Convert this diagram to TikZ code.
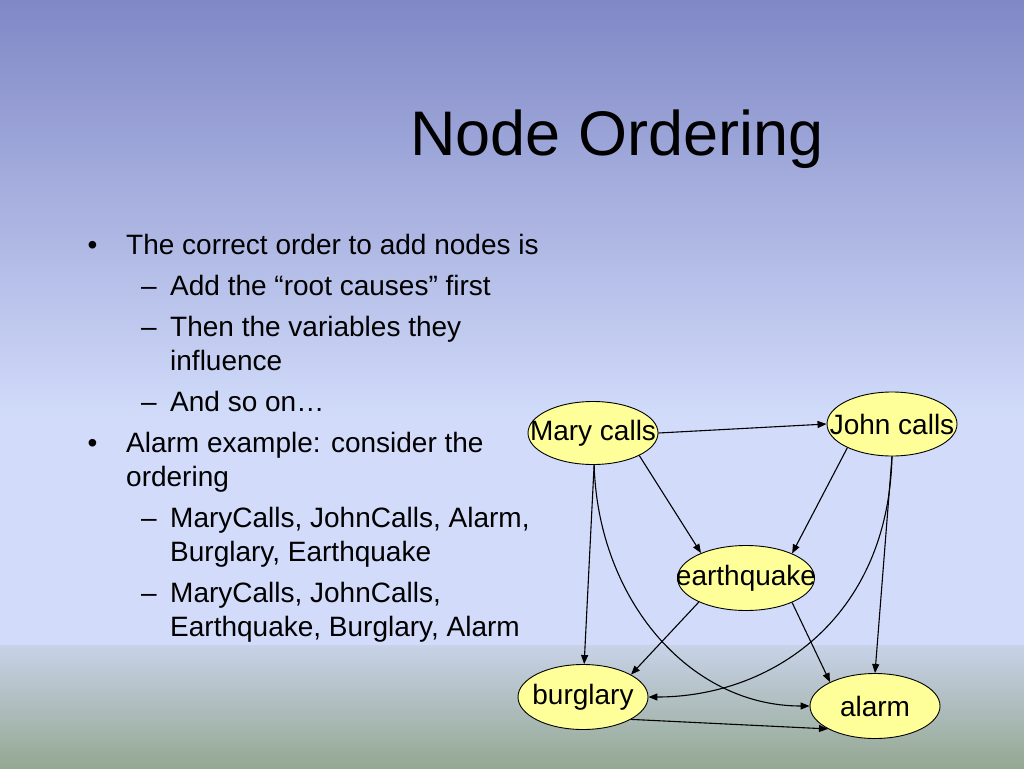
\documentclass[tikz,border=0pt]{standalone}
\usepackage{fontspec}
\setmainfont{Liberation Sans}
\usetikzlibrary{shapes.geometric,arrows.meta}
\definecolor{bgtop}{RGB}{128,136,198}
\definecolor{bgmid}{RGB}{210,220,250}
\definecolor{bggrey}{RGB}{200,210,232}
\definecolor{bgbot}{RGB}{148,168,146}
\definecolor{nodefill}{RGB}{255,255,153}
\begin{document}
\begin{tikzpicture}[x=1pt,y=-1pt,
  bn/.style={ellipse, draw=black, line width=0.9pt, fill=nodefill, inner sep=0pt,
             font=\fontsize{28}{32}\selectfont},
  txt/.style={anchor=base west, inner sep=0pt, font=\fontsize{28}{34}\selectfont},
  bulletmark/.style={anchor=base, inner sep=0pt, font=\fontsize{28}{34}\selectfont},
  arr/.style={-{Stealth[length=9pt,width=7pt,inset=0pt]}, line width=1.1pt, black}]
\useasboundingbox (0,0) rectangle (1024,768);
% background
\fill[top color=bgtop, bottom color=bgmid] (0,0) rectangle (1024,421);
\fill[bgmid] (0,420) rectangle (1024,646);
\fill[top color=bggrey, bottom color=bgbot] (0,645) rectangle (1024,768);
% title
\node[anchor=base, inner sep=0pt, font=\fontsize{63}{75}\selectfont] (title) at (617,155) {Node Ordering};
% bullet list
\node[bulletmark] (m1) at (92.5,254) {•};
\node[txt] (t1) at (126,254) {The correct order to add nodes is};
\node[bulletmark] (d1) at (149,295) {–};
\node[txt] (t2) at (170,295) {Add the “root causes” first};
\node[bulletmark] (d2) at (149,336) {–};
\node[txt] (t3) at (170,336) {Then the variables they};
\node[txt] (t3b) at (170,370) {influence};
\node[bulletmark] (d3) at (149,411) {–};
\node[txt] (t4) at (170,411) {And so on…};
\node[bulletmark] (m2) at (92.5,452) {•};
\node[txt] (t5) at (126,452) {Alarm example: consider the};
\node[txt] (t5b) at (126,486) {ordering};
\node[bulletmark] (d4) at (149,527) {–};
\node[txt] (t6) at (170,527) {MaryCalls, JohnCalls, Alarm,};
\node[txt] (t6b) at (170,561) {Burglary, Earthquake};
\node[bulletmark] (d5) at (149,602) {–};
\node[txt] (t7) at (170,602) {MaryCalls, JohnCalls,};
\node[txt] (t7b) at (170,636) {Earthquake, Burglary, Alarm};
% network nodes
\node[bn, minimum width=130pt, minimum height=63pt] (m) at (593,433) {\makebox[0pt]{Mary calls}};
\node[bn, minimum width=130pt, minimum height=64pt] (j) at (892,424) {\makebox[0pt]{John calls}};
\node[bn, minimum width=137pt, minimum height=65pt] (e) at (746,578) {\makebox[0pt]{earthquake}};
\node[bn, minimum width=130pt, minimum height=65pt] (b) at (583,697) {\makebox[0pt]{burglary}};
\node[bn, minimum width=130pt, minimum height=65pt] (al) at (875,706) {\makebox[0pt]{alarm}};
% connectors
\draw[arr] (m.east) -- (j.west);
\draw[arr] (m.-26) -- (e.151);
\draw[arr] (j.208) -- (e.28);
\draw[arr] (m.-88) -- (b.88);
\draw[arr] (m.-88) .. controls +(4,135) and +(-120,0) .. (al.west);
\draw[arr] (j.south) .. controls +(-4,163) and +(122,0) .. (b.east);
\draw[arr] (j.south) -- (al.north);
\draw[arr] (e.207) -- (b.25);
\draw[arr] (e.-28) -- (al.152);
\draw[arr] (b.-25) -- (al.206);
\end{tikzpicture}
\end{document}
